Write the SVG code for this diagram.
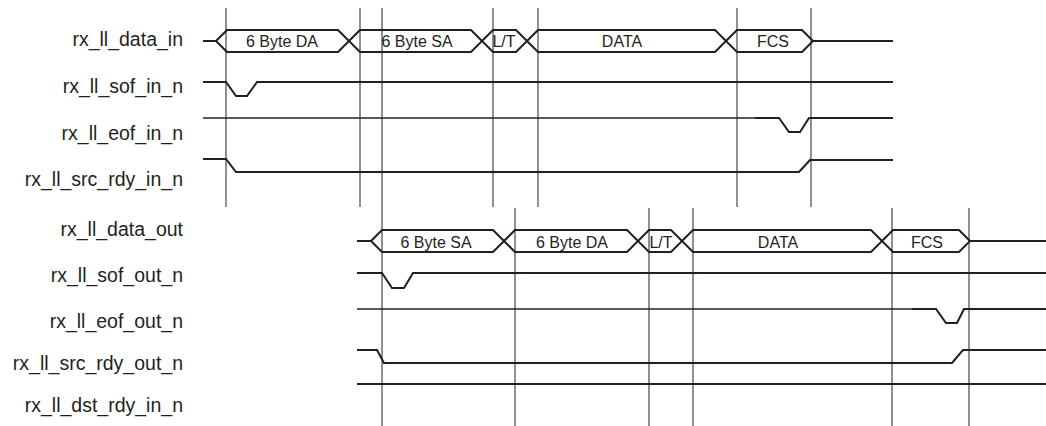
<svg xmlns="http://www.w3.org/2000/svg" width="1046" height="426" viewBox="0 0 1046 426">
<style>
.bg{fill:#fff}
.lbl{font-family:"Liberation Sans",Arial,sans-serif;font-size:19.5px;fill:#231f20;text-anchor:end}
.bt{font-family:"Liberation Sans",Arial,sans-serif;font-size:16px;fill:#231f20;text-anchor:middle}
.sig{fill:none;stroke:#231f20;stroke-width:2;stroke-linejoin:miter}
.thin{fill:none;stroke:#231f20;stroke-width:1.6}
.grid{stroke:#231f20;stroke-width:1;fill:none}
</style>
<rect class="bg" x="0" y="0" width="1046" height="426"/>
<g id="labels">
<text class="lbl" x="183" y="46">rx_ll_data_in</text>
<text class="lbl" x="183" y="93">rx_ll_sof_in_n</text>
<text class="lbl" x="183" y="140">rx_ll_eof_in_n</text>
<text class="lbl" x="183" y="186">rx_ll_src_rdy_in_n</text>
<text class="lbl" x="183" y="236">rx_ll_data_out</text>
<text class="lbl" x="183" y="282">rx_ll_sof_out_n</text>
<text class="lbl" x="183" y="328">rx_ll_eof_out_n</text>
<text class="lbl" x="183" y="370">rx_ll_src_rdy_out_n</text>
<text class="lbl" x="183" y="412">rx_ll_dst_rdy_in_n</text>
</g>
<g id="connectors">
<path class="grid" d="M226,8V207 M360,8V207 M493,8V207 M538,8V207 M737,8V207 M811,8V207 M382,8V426 M515,208V426 M649,208V426 M693,208V426 M892,208V426 M969,208V426"/>
</g>
<g id="rx_ll_data_in">
<path class="sig" d="M203,41H216"/>
<polygon class="sig" points="216,41 227,30 338,30 349,41 338,52 227,52"/>
<polygon class="sig" points="349,41 360,30 471,30 482,41 471,52 360,52"/>
<polygon class="sig" points="482,41 493,30 516,30 527,41 516,52 493,52"/>
<polygon class="sig" points="527,41 538,30 715,30 726,41 715,52 538,52"/>
<polygon class="sig" points="726,41 737,30 802,30 813,41 802,52 737,52"/>
<path class="sig" d="M813,41H893"/>
<text class="bt" x="282" y="47">6 Byte DA</text>
<text class="bt" x="417" y="47">6 Byte SA</text>
<text class="bt" x="504" y="47">L/T</text>
<text class="bt" x="622" y="47">DATA</text>
<text class="bt" x="773" y="47">FCS</text>
</g>
<g id="rx_ll_sof_in_n">
<path class="sig" d="M203,82H226L236,96H247L257,82H893"/>
</g>
<g id="rx_ll_eof_in_n">
<path class="thin" d="M203,118H756"/>
<path class="sig" d="M755,118H779L789,132H800L809,118H893"/>
</g>
<g id="rx_ll_src_rdy_in_n">
<path class="sig" d="M203,159H226L236,172H799L810,160H893"/>
</g>
<g id="rx_ll_data_out">
<path class="sig" d="M357,241H371"/>
<polygon class="sig" points="371,241 382,230 493,230 504,241 493,252 382,252"/>
<polygon class="sig" points="504,241 515,230 627,230 638,241 627,252 515,252"/>
<polygon class="sig" points="638,241 649,230 671,230 682,241 671,252 649,252"/>
<polygon class="sig" points="682,241 693,230 871,230 882,241 871,252 693,252"/>
<polygon class="sig" points="882,241 893,230 959,230 970,241 959,252 893,252"/>
<path class="sig" d="M970,241H1046"/>
<text class="bt" x="436" y="248">6 Byte SA</text>
<text class="bt" x="572" y="248">6 Byte DA</text>
<text class="bt" x="661" y="248">L/T</text>
<text class="bt" x="778" y="248">DATA</text>
<text class="bt" x="927" y="248">FCS</text>
</g>
<g id="rx_ll_sof_out_n">
<path class="sig" d="M357,273H382L392,288H404L413,273H1046"/>
</g>
<g id="rx_ll_eof_out_n">
<path class="thin" d="M357,309H913"/>
<path class="sig" d="M912,309H936L946,323H957L964,309H1046"/>
</g>
<g id="rx_ll_src_rdy_out_n">
<path class="sig" d="M357,350H377L384,363H952L963,350H1046"/>
</g>
<g id="rx_ll_dst_rdy_in_n">
<path class="sig" d="M357,384H1046"/>
</g>
</svg>
